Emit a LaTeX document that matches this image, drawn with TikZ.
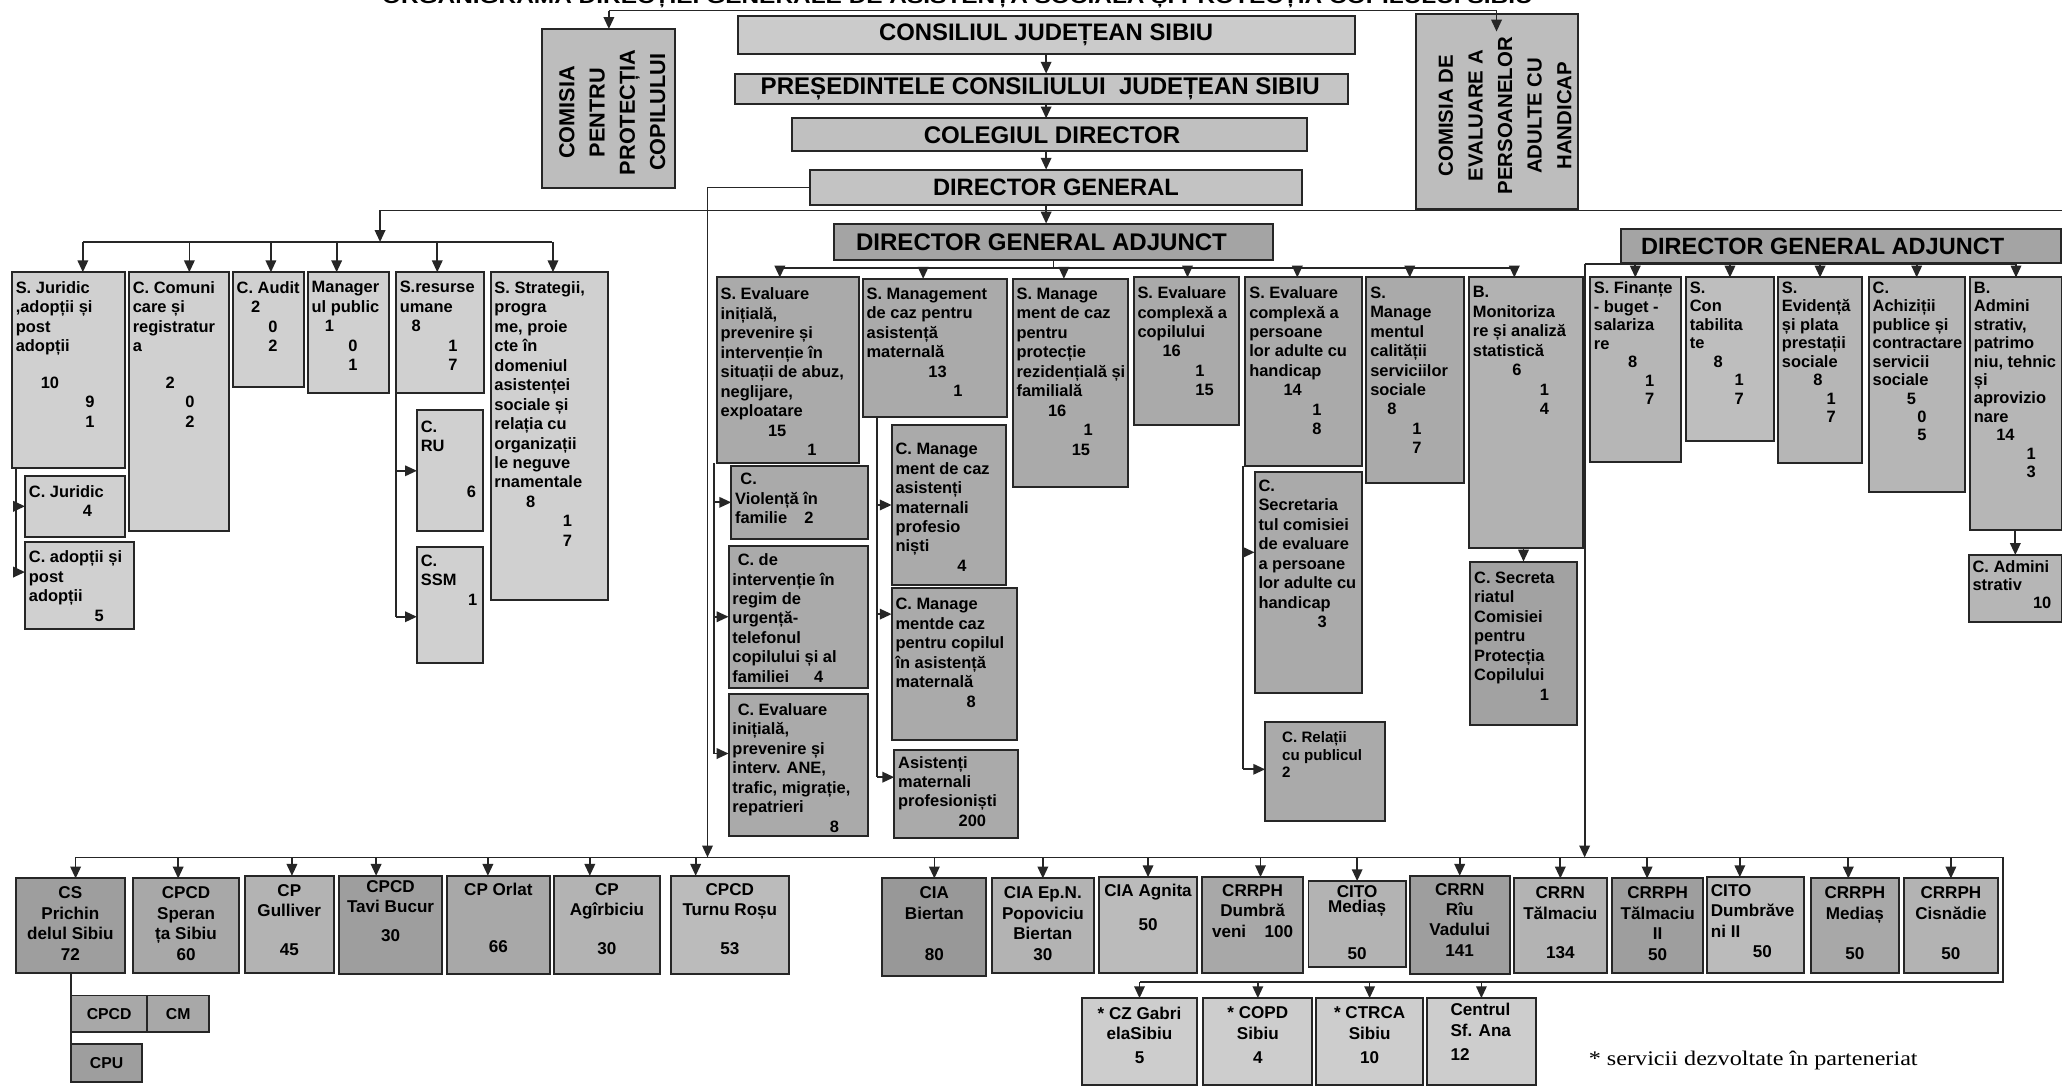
\documentclass[tikz,border=0pt]{standalone}
\usepackage{fontspec}
\setmainfont{Liberation Sans}
\newfontfamily\serifft{Liberation Serif}
\usepackage{graphicx}
\usetikzlibrary{arrows.meta,calc}

\definecolor{gTop}{HTML}{CBCBCB}
\definecolor{gPr}{HTML}{C5C5C5}
\definecolor{gCo}{HTML}{C0C0C0}
\definecolor{gDg}{HTML}{C3C3C3}
\definecolor{gCom}{HTML}{BDBDBD}
\definecolor{gDga}{HTML}{A4A4A4}
\definecolor{gL}{HTML}{D0D0D0}
\definecolor{gM}{HTML}{AAAAAA}
\definecolor{gMl}{HTML}{B2B2B2}
\definecolor{gMd}{HTML}{A2A2A2}
\definecolor{gR}{HTML}{B6B6B6}
\definecolor{gR2}{HTML}{BEBEBE}
\definecolor{gK}{HTML}{9E9E9E}
\definecolor{gK2}{HTML}{A8A8A8}
\definecolor{gK3}{HTML}{989898}
\definecolor{gJ}{HTML}{B3B3B3}
\definecolor{gJ2}{HTML}{BBBBBB}
\definecolor{gS}{HTML}{CDCDCD}
\definecolor{lineC}{HTML}{262626}

\newcommand\bxfont{\fontsize{12.5}{14.8}\selectfont\bfseries}
\newcommand\rtfont{\fontsize{12.5}{14}\selectfont\bfseries}
\newcommand\btfont{\fontsize{13}{15.5}\selectfont\bfseries}
\newcommand\curfont{\bxfont}

\tikzset{
  bx/.style={draw=lineC,line width=1.5pt,anchor=north west,inner sep=0pt,outer sep=0pt},
  tx/.style={anchor=north west,inner sep=0pt,outer sep=0pt,align=left,font=\curfont,text=black},
  tc/.style={anchor=north,inner sep=0pt,outer sep=0pt,align=center,font=\btfont,text=black},
  hd/.style={inner sep=0pt,outer sep=0pt,font=\bfseries,text=black},
  rt/.style={rotate=90,align=center,inner sep=0pt,text=black},
  ln/.style={line width=1.3pt,draw=lineC},
  arr/.style={ln,-{Triangle[length=9pt,width=8pt]}},
}

% left-aligned box: [yshift]{name}{x1}{y1}{x2}{y2}{fill}{text}
\newcommand\obx[8][7]{%
  \node[bx,fill=#7,minimum width={#5pt-#3pt},minimum height={#6pt-#4pt}] (#2) at (#3,#4) {};
  \node[tx] (#2t) at ([xshift=3pt,yshift=-#1pt]#2.north west) {#8};}
% centred box
\newcommand\ocx[8][6.5]{%
  \node[bx,fill=#7,minimum width={#5pt-#3pt},minimum height={#6pt-#4pt}] (#2) at (#3,#4) {};
  \node[tc] (#2t) at ([yshift=-#1pt]#2.north) {#8};}
% small box, text in the middle
\newcommand\smb[7]{%
  \node[bx,fill=#6,minimum width={#4pt-#2pt},minimum height={#5pt-#3pt}] (#1) at (#2,#3) {};
  \node[inner sep=0pt,font=\fontsize{12}{14}\selectfont\bfseries] (#1t) at (#1.center) {#7};}
% header box
\newcommand\hdx[9]{%
  \node[bx,fill=#6,minimum width={#4pt-#2pt},minimum height={#5pt-#3pt}] (#1) at (#2,#3) {};
  \node[hd] (#1t) at ([xshift=#9pt]#1.center) {\resizebox{#7pt}{!}{#8}};}

\begin{document}
\begin{tikzpicture}[x=1pt,y=-1pt]
\useasboundingbox (0,0) rectangle (1568,826);
\clip (0,0) rectangle (1568,826);
\fill[white] (0,0) rectangle (1568,826);

% cut-off title
\node[anchor=base,inner sep=0pt] (ttl) at (728,3) {\resizebox{875pt}{13pt}{\bfseries ORGANIGRAMA DIRECȚIEI GENERALE DE ASISTENȚĂ SOCIALĂ ȘI PROTECȚIA COPILULUI SIBIU}};

% ---------- top ----------
\hdx{cj}{561}{12}{1030}{41}{gTop}{254}{CONSILIUL JUDEȚEAN SIBIU}{0}
\hdx{pr}{559}{56}{1025}{79}{gPr}{425}{PREȘEDINTELE CONSILIULUI\ \ JUDEȚEAN SIBIU}{-1}
\hdx{cd}{602}{90}{994}{115}{gCo}{195}{COLEGIUL DIRECTOR}{2}
\hdx{dg}{616}{129}{990}{156}{gDg}{187}{DIRECTOR GENERAL}{0}
\hdx{dga}{634}{170}{968}{198}{gDga}{282}{DIRECTOR GENERAL ADJUNCT}{-9}
\hdx{dgb}{1233}{174}{1567}{200}{gDga}{276}{DIRECTOR GENERAL ADJUNCT}{-14}

\node[bx,fill=gCom,minimum width=101pt,minimum height=121pt] (cpc) at (412,22) {};
\node[rt,font=\fontsize{16.5}{23}\selectfont\bfseries] (cpct) at ([xshift=3pt,yshift=-3pt]cpc.center) {COMISIA\\PENTRU\\PROTECȚIA\\COPILULUI};
\node[bx,fill=gCom,minimum width=123pt,minimum height=148pt] (cea) at (1077,11) {};
\node[rt,font=\fontsize{15.5}{22.5}\selectfont\bfseries] (ceat) at ([xshift=6pt,yshift=-3pt]cea.center) {COMISIA DE\\EVALUARE A\\PERSOANELOR\\ADULTE CU\\HANDICAP};

% ---------- left group ----------
\obx{sj}{9}{207}{95}{356}{gL}{S. Juridic\\,adopții și\\post\\adopții\\[13pt]\hspace*{19pt}10\\\hspace*{53pt}9\\\hspace*{53pt}1}
\obx{cc}{98}{207}{174}{404}{gL}{C. Comuni\\care și\\registratur\\a\\[13pt]\hspace*{25pt}2\\\hspace*{40pt}0\\\hspace*{40pt}2}
\obx{ca}{177}{207}{231}{294}{gL}{C. Audit\\\hspace*{11pt}2\\\hspace*{24pt}0\\\hspace*{24pt}2}
\obx{mp}{234}{207}{296}{299}{gL}{Manager\\ul public\\\hspace*{10pt}1\\\hspace*{28pt}0\\\hspace*{28pt}1}
\obx{sr}{301}{207}{368}{299}{gL}{S.resurse\\umane\\\hspace*{9pt}8\\\hspace*{37pt}1\\\hspace*{37pt}7}
\obx{ss}{373}{207}{462}{456}{gL}{S. Strategii,\\progra\\me, proie\\cte în\\domeniul\\asistenței\\sociale și\\relația cu\\organizații\\le neguve\\rnamentale\\\hspace*{24pt}8\\\hspace*{52pt}1\\\hspace*{52pt}7}
\obx{cjr}{19}{362}{95}{408}{gL}{C. Juridic\\\hspace*{41pt}4}
\obx{cad}{19}{412}{102}{478}{gL}{C. adopții și\\post\\adopții\\\hspace*{50pt}5}
\obx[8]{cru}{317}{312}{367}{404}{gL}{C.\\RU\\[20pt]\hspace*{35pt}6}
\obx[6]{cssm}{317}{416}{367}{504}{gL}{C.\\SSM\\\hspace*{36pt}1}

% ---------- DGA 1 group ----------
\obx[8]{sei}{545}{211}{653}{352}{gM}{S. Evaluare\\inițială,\\prevenire și\\intervenție în\\situații de abuz,\\neglijare,\\exploatare\\\hspace*{36pt}15\\\hspace*{66pt}1}
\obx{sma}{656}{212}{766}{317}{gM}{S. Management\\de caz pentru\\asistență\\maternală\\\hspace*{47pt}13\\\hspace*{66pt}1}
\obx{smr}{770}{212}{858}{370}{gM}{S. Manage\\ment de caz\\pentru\\protecție\\rezidențială și\\familială\\\hspace*{24pt}16\\\hspace*{51pt}1\\\hspace*{42pt}15}
\obx{sec}{862}{211}{942}{323}{gM}{S. Evaluare\\complexă a\\copilului\\\hspace*{19pt}16\\\hspace*{44pt}1\\\hspace*{44pt}15}
\obx{sea}{947}{211}{1036}{354}{gM}{S. Evaluare\\complexă a\\persoane\\lor adulte cu\\handicap\\\hspace*{26pt}14\\\hspace*{48pt}1\\\hspace*{48pt}8}
\obx{smc}{1039}{211}{1113}{367}{gM}{S.\\Manage\\mentul\\calității\\serviciilor\\sociale\\\hspace*{13pt}8\\\hspace*{32pt}1\\\hspace*{32pt}7}
\obx{bmo}{1117}{211}{1204}{417}{gMl}{B.\\Monitoriza\\re și analiză\\statistică\\\hspace*{30pt}6\\\hspace*{51pt}1\\\hspace*{51pt}4}

\obx[6]{cvf}{556}{354}{660}{410}{gM}{\hspace*{4pt}C.\\Violență în\\familie\hspace*{13pt}2}
\obx[6]{cir}{554}{415}{660}{523}{gM}{\hspace*{4pt}C. de\\intervenție în\\regim de\\urgență-\\telefonul\\copilului și al\\familiei\hspace*{19pt}4}
\obx[7]{cei}{554}{528}{660}{636}{gM}{\hspace*{4pt}C. Evaluare\\inițială,\\prevenire și\\interv. ANE,\\trafic, migrație,\\repatrieri\\\hspace*{74pt}8}
\obx[14]{cma}{678}{323}{765}{445}{gM}{C. Manage\\ment de caz\\asistenți\\maternali\\profesio\\niști\\\hspace*{47pt}4}
\obx[8]{cmc}{678}{447}{773}{563}{gM}{C. Manage\\mentde caz\\pentru copilul\\în asistență\\maternală\\\hspace*{54pt}8}
\obx[5]{amp}{680}{570}{774}{637}{gM}{Asistenți\\maternali\\profesioniști\\\hspace*{46pt}200}
\obx[6]{csa}{954}{359}{1036}{527}{gM}{C.\\Secretaria\\tul comisiei\\de evaluare\\a persoane\\lor adulte cu\\handicap\\\hspace*{45pt}3}
\node[bx,fill=gM,minimum width=91pt,minimum height=75pt] (crp) at (962,549) {};
\node[tx,font=\fontsize{11.5}{13.3}\selectfont\bfseries] (crpt) at ([xshift=13pt,yshift=-7.5pt]crp.north west) {C. Relații\\cu publicul\\2};
\obx[8]{csc}{1118}{427}{1199}{551}{gMd}{C. Secreta\\riatul\\Comisiei\\pentru\\Protecția\\Copilului\\\hspace*{50pt}1}

% ---------- DGA 2 group ----------
\renewcommand\curfont{\rtfont}
\obx[3.5]{sfi}{1209}{211}{1278}{351}{gR}{S. Finanțe\\- buget -\\salariza\\re\\\hspace*{26pt}8\\\hspace*{39pt}1\\\hspace*{39pt}7}
\obx[3.5]{sco}{1282}{211}{1349}{335}{gR2}{S.\\Con\\tabilita\\te\\\hspace*{18pt}8\\\hspace*{34pt}1\\\hspace*{34pt}7}
\obx[3.5]{sev}{1352}{211}{1416}{352}{gR}{S.\\Evidență\\și plata\\prestații\\sociale\\\hspace*{24pt}8\\\hspace*{34pt}1\\\hspace*{34pt}7}
\obx[3.5]{cac}{1421}{211}{1494}{374}{gR}{C.\\Achiziții\\publice și\\contractare\\servicii\\sociale\\\hspace*{26pt}5\\\hspace*{34pt}0\\\hspace*{34pt}5}
\obx[3.5]{bad}{1498}{211}{1568}{403}{gR}{B.\\Admini\\strativ,\\patrimo\\niu, tehnic\\și\\aprovizio\\nare\\\hspace*{17pt}14\\\hspace*{40pt}1\\\hspace*{40pt}3}
\obx[4]{cadm}{1497}{422}{1568}{473}{gR}{C. Admini\\strativ\\\hspace*{46pt}10}

% ---------- bottom row ----------
\renewcommand\curfont{\btfont}
\ocx{cs}{12}{668}{95}{740}{gK}{CS\\Prichin\\delul Sibiu\\72}
\ocx{cps}{101}{668}{182}{740}{gK2}{CPCD\\Speran\\ța Sibiu\\60}
\ocx{cpg}{186}{666}{254}{740}{gJ}{CP\\Gulliver\\[14pt]45}
\ocx[3.5]{ctb}{258}{666}{336}{741}{gK}{CPCD\\Tavi Bucur\\[6pt]30}
\ocx[5.5]{cpo}{340}{666}{418}{741}{gK2}{CP Orlat\\[28pt]66}
\ocx[5.5]{cpa}{421}{666}{502}{741}{gJ}{CP\\Agîrbiciu\\[14pt]30}
\ocx[5.5]{ctr}{510}{666}{600}{741}{gJ2}{CPCD\\Turnu Roșu\\[14pt]53}
\ocx{cib}{671}{668}{750}{742}{gK3}{CIA\\Biertan\\[16pt]80}
\ocx{cie}{754}{668}{832}{740}{gJ}{CIA Ep.N.\\Popoviciu\\Biertan\\30}
\ocx[5.5]{cia}{836}{667}{910}{740}{gJ2}{CIA Agnita\\[10pt]50}
\ocx[5.5]{crd}{914}{667}{991}{740}{gK2}{CRRPH\\Dumbră\\veni\hspace{14pt}100}
\ocx[3.5]{cim}{995}{670}{1069}{735}{gJ}{CITO\\[-4pt]Mediaș\\[20pt]50}
\ocx[5.5]{crr}{1072}{666}{1148}{741}{gK}{CRRN\\Rîu\\Vadului\\141}
\ocx{crt}{1151}{668}{1222}{740}{gJ}{CRRN\\Tălmaciu\\[14pt]134}
\ocx{crt2}{1226}{668}{1295}{740}{gK}{CRRPH\\Tălmaciu\\II\\50}
\obx[5.5]{cdu}{1298}{667}{1372}{740}{gJ2}{CITO\\Dumbrăve\\ni II\\\hspace*{32pt}50}
\ocx{crm}{1377}{668}{1444}{740}{gK2}{CRRPH\\Mediaș\\[15pt]50}
\ocx{crc}{1448}{668}{1519}{740}{gJ}{CRRPH\\Cisnădie\\[15pt]50}

\smb{scp}{54}{757}{112}{785}{gK2}{CPCD}
\smb{scm}{112}{757}{159}{785}{gK2}{CM}
\smb{scu}{54}{794}{108}{823}{gK}{CPU}

\ocx{cz}{823}{759}{910}{825}{gS}{* CZ Gabri\\elaSibiu\\[3pt]5}
\ocx{cop}{915}{759}{998}{825}{gS}{* COPD\\Sibiu\\[3pt]4}
\ocx{ctc}{1001}{759}{1082}{825}{gS}{* CTRCA\\Sibiu\\[3pt]10}
\obx[4]{cna}{1085}{759}{1168}{825}{gS}{\hspace*{15pt}Centrul\\\hspace*{15pt}Sf. Ana\\[3pt]\hspace*{15pt}12}

\node[anchor=base west,inner sep=0pt] (leg) at (1208,810) {\resizebox{250pt}{11pt}{\serifft * servicii dezvoltate în parteneriat}};

% ---------- connectors ----------
\coordinate (t1) at (463,8);
\coordinate (t2) at (1138,8);
\draw[ln] (t1) -- (t2);
\draw[arr] (t1) -- (t1 |- cpc.north);
\draw[arr] (t2) -- ($(t2 |- cea.north)+(0,13)$);

\draw[arr] (cj.south) -- (cj.south |- pr.north);
\draw[arr] (cj.south |- pr.south) -- (cj.south |- cd.north);
\draw[arr] (cj.south |- cd.south) -- (cj.south |- dg.north);
\draw[arr] (cj.south |- dg.south) -- (cj.south |- dga.north);

\coordinate (bl) at (538,652);
\draw[arr] (dg.west) -- (dg.west -| bl) -- (bl);

\coordinate (m1) at (289,160);
\coordinate (m2) at (1568,160);
\coordinate (s1) at (63,184);
\coordinate (s2) at (420,184);
\draw[ln] (m1) -- (m2);
\draw[arr] (m1) -- (m1 |- s1);
\draw[ln] (s1) -- (s2);
\foreach \n/\s in {sj/11,cc/8,ca/2,mp/-9,sr/-2,ss/3}
  \draw[arr] ($(\n.north |- s1)+(\s,0)$) -- ($(\n.north)+(\s,0)$);

\coordinate (j1) at (12,356);
\coordinate (j2) at (12,435);
\draw[ln] (j1) -- (j2);
\draw[arr] (j1 |- cjr.west) -- (cjr.west);
\draw[arr] (j2) -- (j2 -| cad.west);

\coordinate (r1) at (301,299);
\coordinate (r2) at (301,469);
\draw[ln] (r1) -- (r2);
\draw[arr] (r1 |- cru.west) -- (cru.west);
\draw[arr] (r2) -- (r2 -| cssm.west);

\coordinate (d1) at (593,204);
\coordinate (d2) at (1151,204);
\draw[ln] (d1) -- (d2);
\draw[ln] (dga.south) -- (dga.south |- d1);
\foreach \n/\s in {sei/-6,sma/-9,smr/-5,sec/1,sea/-5,smc/-4,bmo/-9}
  \draw[arr] ($(\n.north |- d1)+(\s,0)$) -- ($(\n.north)+(\s,0)$);

\coordinate (e1) at (543,352);
\coordinate (e2) at (543,573);
\draw[ln] (e1) -- (e2);
\draw[arr] (e1 |- cvf.west) -- (cvf.west);
\draw[arr] (e1 |- cir.west) -- (cir.west);
\draw[arr] (e2) -- (e2 -| cei.west);

\coordinate (a1) at (667,317);
\coordinate (a2) at (667,591);
\coordinate (a3) at (667,467);
\draw[ln] (a1) -- (a2);
\draw[arr] (a1 |- cma.west) -- (cma.west);
\draw[arr] (a3) -- (a3 -| cmc.west);
\draw[arr] (a2) -- (a2 -| amp.west);

\coordinate (v1) at (945,354);
\coordinate (v2) at (945,585);
\coordinate (v3) at (945,420);
\draw[ln] (v1) -- (v2);
\draw[arr] (v3) -- (v3 -| csa.west);
\draw[arr] (v2) -- (v2 -| crp.west);
\draw[arr] (bmo.south -| csc.north) -- (csc.north);

\coordinate (g1) at (1205,201);
\coordinate (g2) at (1533,201);
\coordinate (gb) at (1205,652);
\draw[ln] (g1) -- (g2);
\draw[arr] (g1) -- (gb);
\foreach \n in {sfi,sco,sev,cac,bad}
  \draw[arr] (\n.north |- g1) -- (\n.north);
\draw[arr] (bad.south -| cadm.north) -- (cadm.north);

\coordinate (b1) at (58,652);
\coordinate (b2) at (1523,652);
\coordinate (b3) at (1523,747);
\draw[ln] (b1) -- (b2);
\draw[ln] (b2) -- (b3) -- (cz.north |- b3);
\foreach \n/\s in {cs/4,cps/-6,cpg/2,ctb/-11,cpo/-8,cpa/-13,ctr/-26,cib/0,cie/0,cia/0,crd/6,cim/0,crr/0,crt/0,crt2/-8,cdu/-12,crm/-5,crc/0}
  \draw[arr] ($(\n.north |- b1)+(\s,0)$) -- ($(\n.north)+(\s,0)$);
\foreach \n in {cz,cop,ctc,cna}
  \draw[arr] (\n.north |- b3) -- (\n.north);
\draw[ln] (cs.south -| scu.west) -- (scu.south west);

\end{tikzpicture}
\end{document}
